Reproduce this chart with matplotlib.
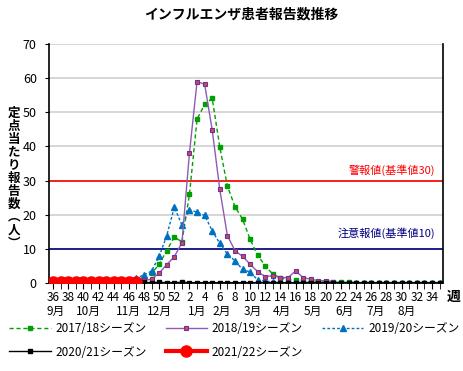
import numpy as np
import matplotlib
matplotlib.use('Agg')
import matplotlib.pyplot as plt

plt.rcParams['font.family'] = ['Noto Sans CJK JP', 'DejaVu Sans']

# ===== data
weeks = list(range(36, 53)) + list(range(1, 36))

s1718 = [0.0, 0.0, 0.1, 0.1, 0.1, 0.1, 0.2, 0.2, 0.3, 0.4, 0.5, 0.8,
         1.5, 2.8, 5.5, 9.5, 13.5, 12.0, 26.0, 48.0, 52.3, 54.1, 39.8, 28.4,
         22.4, 18.7, 12.8, 8.1, 5.0, 2.6, 1.5, 1.0, 0.8, 0.6, 0.4, 0.3,
         0.3, 0.2, 0.2, 0.2, 0.1, 0.1, 0.1, 0.1, 0.1, 0.0, 0.0, 0.0,
         0.0, 0.0, 0.0, 0.0]
s1819 = [0.0, 0.0, 0.0, 0.1, 0.1, 0.1, 0.1, 0.2, 0.2, 0.3, 0.4, 0.5,
         0.8, 1.1, 2.9, 5.4, 7.7, 11.8, 38.2, 59.0, 58.2, 44.8, 27.4, 13.9,
         9.5, 7.8, 5.5, 3.3, 1.9, 2.1, 1.6, 1.6, 3.5, 1.6, 1.1, 0.7,
         0.7, 0.4] + [np.nan] * 14
s1920 = [0.1, 0.1, 0.1, 0.2, 0.2, 0.3, 0.3, 0.4, 0.5, 0.6, 0.8, 1.4,
         2.4, 3.5, 7.8, 13.9, 22.2, 17.0, 21.5, 20.7, 19.8, 15.3, 11.6, 8.5,
         6.5, 4.0, 3.2, 0.9, 0.6, 0.3, 0.1, 0.0, 0.0, 0.0, 0.0, 0.0,
         0.0, 0.0, 0.0, 0.0, 0.0, 0.0, 0.0, 0.0, 0.0, 0.0, 0.0, 0.0,
         0.0, 0.0, 0.0, 0.0]
s2021 = [0.1] * 12 + [0.2, 0.1, 0.2, 0.1, 0.1, 0.2, 0.1, 0.1, 0.1, 0.1,
         0.1, 0.1, 0.1, 0.1, 0.1, 0.1, 0.1, 0.1, 0.1, 0.1, 0.1, 0.1,
         0.1, 0.1, 0.1, 0.1, 0.1, 0.1, 0.1, 0.1, 0.1, 0.1, 0.1, 0.1,
         0.1, 0.1, 0.1, 0.1, 0.1, 0.1]
s2122 = [0.2, 0.2, 0.2, 0.2, 0.2, 0.2, 0.2, 0.2, 0.2, 0.2, 0.2, 0.2] + [np.nan] * 40

season_names = ['2017/18シーズン', '2018/19シーズン', '2019/20シーズン',
                '2020/21シーズン', '2021/22シーズン']

alarm_level = 30
warn_level = 10

months = ['9月', '10月', '11月', '12月', '1月', '2月', '3月', '4月',
          '5月', '6月', '7月', '8月']
month_pos = [0.3, 4.6, 9.9, 14.1, 19.0, 22.3, 26.4, 30.2, 34.3, 38.5, 42.5, 46.7]

x = np.arange(len(weeks))

fig = plt.figure(figsize=(4.63, 3.71), dpi=100)
ax = fig.add_axes([0.1065, 0.2372, 0.851, 0.6442])

# grid
for v in range(10, 71, 10):
    ax.axhline(v, color='#d0d0d0', lw=1.2, zorder=0)

ax.axhline(alarm_level, color='#ff0000', lw=1.2, zorder=1)
ax.axhline(warn_level, color='#000080', lw=1.2, zorder=1)

h1, = ax.plot(x, s1718, color='#00a000', ls=(0, (3, 2)), lw=1.0,
              marker='s', ms=2.5, mec='#00a000', mfc='#00a000', zorder=3)
h2, = ax.plot(x, s1819, color='#8e5bb5', ls='-', lw=1.0,
              marker='s', ms=3.5, mec='#7030a0', mfc='#c0504d', mew=0.8, zorder=4)
h3, = ax.plot(x, s1920, color='#0070c0', ls=(0, (2, 1.5)), lw=1.0,
              marker='^', ms=4, mec='#0070c0', mfc='#0070c0', zorder=3)
h4, = ax.plot(x, s2021, color='black', ls='-', lw=1.0,
              marker='s', ms=3.5, mec='black', mfc='black', zorder=5)
h5, = ax.plot(x, s2122, color='#ff0000', ls='-', lw=3,
              marker='o', ms=8, mec='#ff0000', mfc='#ff0000', zorder=6)

ax.set_xlim(-0.5, 51.5)
ax.set_ylim(0, 70)
ax.set_yticks(range(0, 71, 10))
ax.tick_params(axis='y', length=3, labelsize=9, pad=6)
ax.set_xticks(x, minor=True)
ax.set_xticks(x[::2])
ax.set_xticklabels([str(w) for w in weeks[::2]])
ax.tick_params(axis='x', which='both', length=4, direction='out', labelsize=8.5, pad=2)
ax.spines['top'].set_visible(False)
for s in ['left', 'right', 'bottom']:
    ax.spines[s].set_linewidth(1.2)

tr = ax.get_xaxis_transform()
for m, p in zip(months, month_pos):
    ax.text(p, -0.117, m, transform=tr, ha='center', va='center', fontsize=8.5)
ax.text(1.025, -0.059, '週', transform=ax.transAxes, ha='center', va='center',
        fontsize=10, fontweight='bold')

ax.text(50.4, alarm_level + 3.1, '警報値(基準値30)', color='#ff0000',
        ha='right', va='center', fontsize=8)
ax.text(50.4, warn_level + 4.6, '注意報値(基準値10)', color='#000080',
        ha='right', va='center', fontsize=8)

fig.text(0.522, 0.96, 'インフルエンザ患者報告数推移', ha='center', va='center',
         fontsize=10, fontweight='bold')
fig.text(0.03, 0.52, '\n'.join('定点当たり報告数︵人︶'), ha='center', va='center',
         fontsize=9, fontweight='bold', linespacing=1.0)

handles = [h1, h4, h2, h5, h3]
labels = [season_names[0], season_names[3], season_names[1], season_names[4], season_names[2]]
fig.legend(handles, labels, loc='upper left', bbox_to_anchor=(0.01, 0.145), ncol=3,
           frameon=False, fontsize=8.5, handlelength=3.5, handletextpad=0.4,
           columnspacing=1.6, labelspacing=0.9, borderaxespad=0)

fig.savefig('out.png', dpi=100)
